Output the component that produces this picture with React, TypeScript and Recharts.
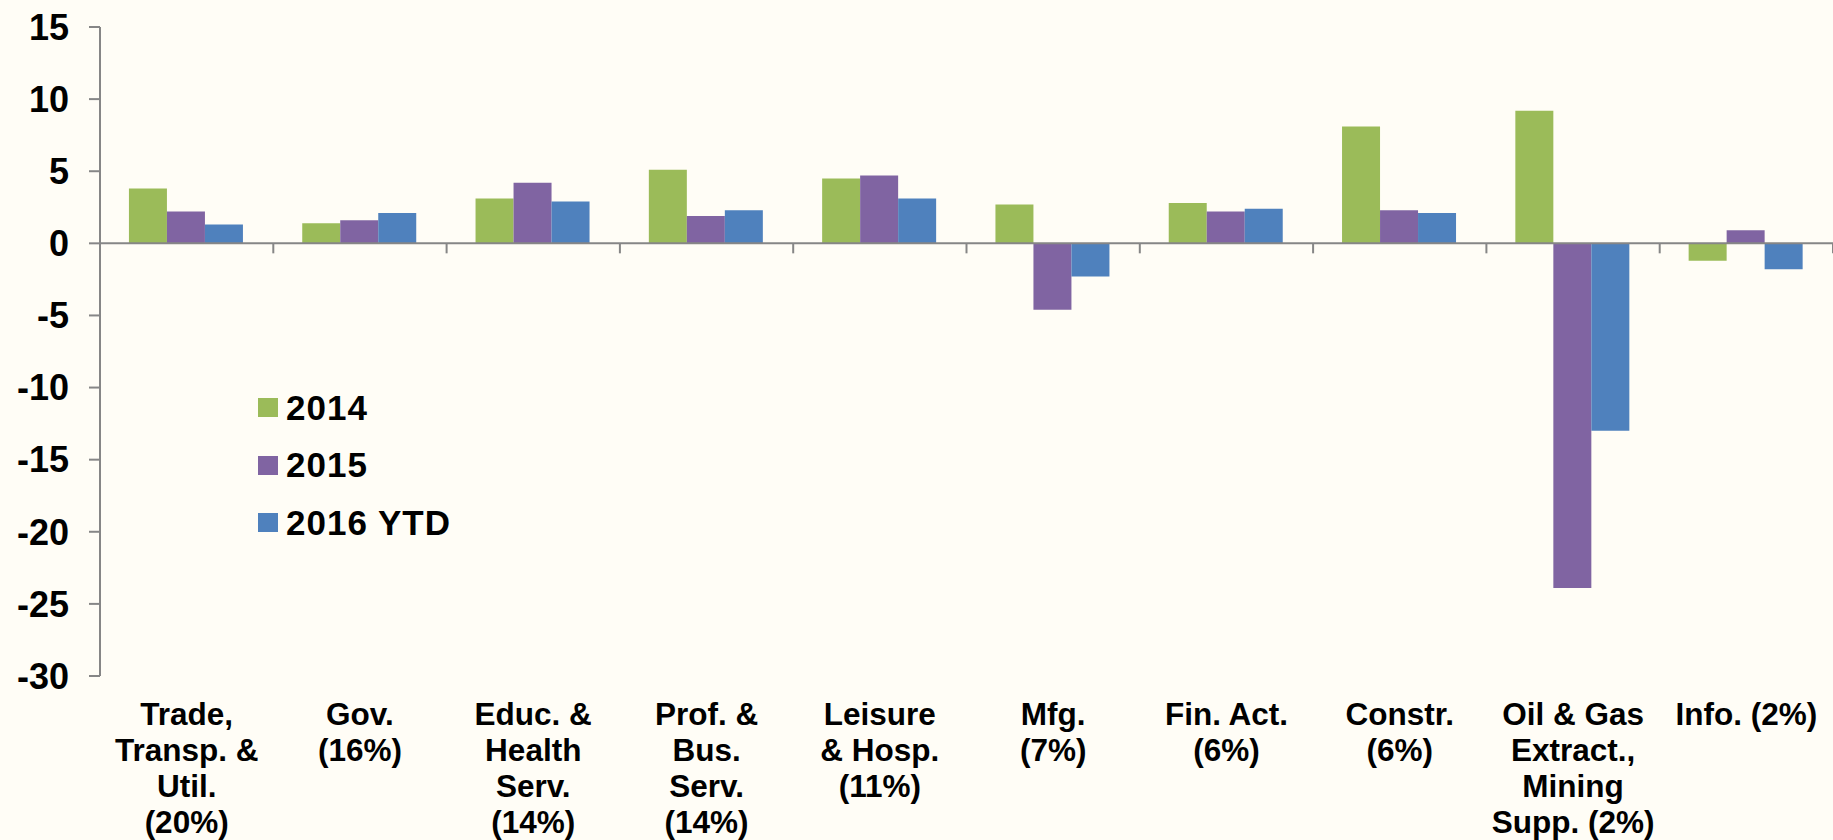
import { Bar, BarChart, ReferenceLine, XAxis, YAxis } from "recharts";

const categories = [
  "Trade,\nTransp. &\nUtil.\n(20%)",
  "Gov.\n(16%)",
  "Educ. &\nHealth\nServ.\n(14%)",
  "Prof. &\nBus.\nServ.\n(14%)",
  "Leisure\n& Hosp.\n(11%)",
  "Mfg.\n(7%)",
  "Fin. Act.\n(6%)",
  "Constr.\n(6%)",
  "Oil & Gas\nExtract.,\nMining\nSupp. (2%)",
  "Info. (2%)",
];

const values2014 = [3.8, 1.4, 3.1, 5.1, 4.5, 2.7, 2.8, 8.1, 9.2, -1.2];
const values2015 = [2.2, 1.6, 4.2, 1.9, 4.7, -4.6, 2.2, 2.3, -23.9, 0.9];
const values2016 = [1.3, 2.1, 2.9, 2.3, 3.1, -2.3, 2.4, 2.1, -13.0, -1.8];

const yTicks = [-30, -25, -20, -15, -10, -5, 0, 5, 10, 15];

const series = [
  { key: "y2014", name: "2014", color: "#9BBB59" },
  { key: "y2015", name: "2015", color: "#8064A2" },
  { key: "y2016", name: "2016 YTD", color: "#4F81BD" },
];

const data = categories.map((name, i) => ({
  name,
  y2014: values2014[i],
  y2015: values2015[i],
  y2016: values2016[i],
}));

const FONT = '"Liberation Sans", Arial, sans-serif';
const AXIS = "#868686";

const CategoryTick = (props: any) => {
  const { x, y, payload } = props;
  const lines = String(payload.value).split("\n");
  return (
    <text
      x={x}
      y={y}
      textAnchor="middle"
      fontFamily={FONT}
      fontWeight="bold"
      fontSize={31.5}
      fill="#000"
    >
      {lines.map((line, i) => (
        <tspan key={i} x={x} dy={i === 0 ? 49 : 36}>
          {line}
        </tspan>
      ))}
    </text>
  );
};

// zero line with tick marks between the categories
const ZeroLine = (props: any) => {
  const { x1, y1, x2 } = props;
  const step = (x2 - x1) / categories.length;
  return (
    <g>
      <line x1={x1} y1={y1} x2={x2} y2={y1} stroke={AXIS} strokeWidth={2} />
      {categories.map((c, i) => (
        <line
          key={c}
          x1={x1 + step * (i + 1)}
          x2={x1 + step * (i + 1)}
          y1={y1}
          y2={y1 + 10}
          stroke={AXIS}
          strokeWidth={2}
        />
      ))}
    </g>
  );
};

const LegendBox = () => (
  <div
    style={{
      fontFamily: FONT,
      fontWeight: "bold",
      fontSize: 35,
      letterSpacing: 1,
    }}
  >
    {series.map((s) => (
      <div
        key={s.key}
        style={{ display: "flex", alignItems: "center", height: 57.5 }}
      >
        <span
          style={{
            display: "inline-block",
            width: 20,
            height: 19,
            background: s.color,
            marginRight: 8,
          }}
        />
        <span>{s.name}</span>
      </div>
    ))}
  </div>
);

const App = () => {
  return (
    <div
      style={{
        position: "absolute",
        left: 0,
        top: 0,
        width: 1833,
        height: 840,
        background: "#FFFDF6",
        overflow: "hidden",
      }}
    >
      <BarChart
        width={1833}
        height={840}
        data={data}
        margin={{ top: 27, right: 0, left: 0, bottom: 0 }}
        barCategoryGap="16.7%"
        barGap={0}
      >
        <XAxis
          dataKey="name"
          height={164}
          axisLine={false}
          tickLine={false}
          tickSize={0}
          tickMargin={0}
          interval={0}
          tick={<CategoryTick />}
        />
        <YAxis
          width={100}
          domain={[-30, 15]}
          ticks={yTicks}
          interval={0}
          tickSize={11}
          tickMargin={20}
          axisLine={{ stroke: AXIS, strokeWidth: 2 }}
          tickLine={{ stroke: AXIS, strokeWidth: 2 }}
          tick={{ fill: "#000", fontSize: 36, fontWeight: "bold", fontFamily: FONT }}
        />
        {series.map((s) => (
          <Bar
            key={s.key}
            dataKey={s.key}
            name={s.name}
            fill={s.color}
            isAnimationActive={false}
          />
        ))}
        <ReferenceLine y={0} shape={<ZeroLine />} />
      </BarChart>
      <div style={{ position: "absolute", left: 258, top: 379 }}>
        <LegendBox />
      </div>
    </div>
  );
};

export default App;
